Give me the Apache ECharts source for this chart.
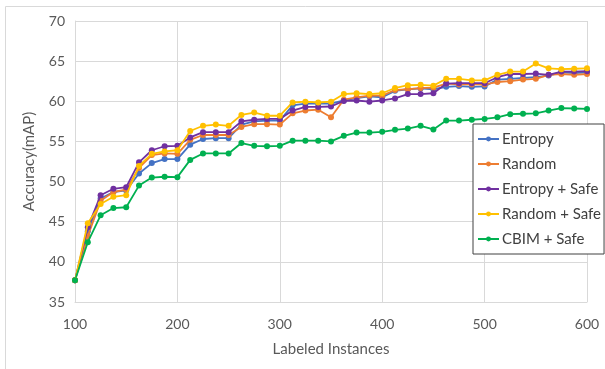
<!DOCTYPE html>
<html><head><meta charset="utf-8">
<script src="https://cdn.jsdelivr.net/npm/echarts@6/dist/echarts.min.js"></script>
<style>html,body{margin:0;padding:0;background:#fff}#c{width:605px;height:369px}</style>
</head><body><div id="c"></div>
<script>
const xValues = [100,112.5,125,137.5,150,162.5,175,187.5,200,212.5,225,237.5,250,262.5,275,287.5,300,312.5,325,337.5,350,362.5,375,387.5,400,412.5,425,437.5,450,462.5,475,487.5,500,512.5,525,537.5,550,562.5,575,587.5,600];
const entropy =      [37.7,43.8,47.9,48.7,48.9,51.0,52.3,52.8,52.8,54.6,55.3,55.4,55.4,57.1,57.5,57.6,57.6,59.5,59.7,59.7,59.7,60.1,60.4,60.6,60.5,61.3,61.5,61.6,61.5,61.8,61.9,61.8,61.85,62.7,62.8,62.9,63.0,63.2,63.6,63.5,63.6];
const random =       [37.7,43.2,47.6,48.7,49.0,51.7,53.3,53.5,53.45,55.2,55.8,55.8,55.8,56.8,57.15,57.15,57.1,58.5,58.85,58.95,58.0,60.2,60.5,60.7,60.7,61.4,61.5,61.65,61.7,62.2,62.1,62.1,62.1,62.4,62.5,62.7,62.8,63.3,63.4,63.3,63.4];
const entropySafe =  [37.7,44.3,48.3,49.1,49.3,52.4,53.9,54.4,54.45,55.5,56.15,56.15,56.15,57.5,57.7,57.8,57.8,58.85,59.3,59.3,59.35,60.05,60.1,59.95,60.1,60.35,60.9,60.9,61.0,62.2,62.25,62.25,62.25,63.0,63.4,63.4,63.45,63.3,63.7,63.7,63.75];
const randomSafe =   [37.7,44.8,47.2,48.1,48.3,51.95,53.45,53.75,53.9,56.3,56.95,57.1,56.95,58.3,58.6,58.2,58.2,59.85,59.95,59.85,59.95,60.9,61.0,60.9,61.0,61.65,62.0,62.05,61.95,62.8,62.8,62.6,62.6,63.3,63.7,63.7,64.7,64.1,64.0,64.05,64.1];
const cbimSafe =     [37.7,42.45,45.8,46.7,46.8,49.5,50.5,50.6,50.55,52.7,53.5,53.5,53.5,54.8,54.45,54.4,54.45,55.1,55.1,55.1,55.0,55.7,56.1,56.1,56.2,56.45,56.6,56.95,56.5,57.6,57.6,57.7,57.8,58.0,58.4,58.45,58.5,58.85,59.15,59.1,59.05];
const seriesNames = ['Entropy','Random','Entropy + Safe','Random + Safe','CBIM + Safe'];
const seriesColors = ['#4472C4','#ED7D31','#7030A0','#FFC000','#00B050'];
const seriesData = [entropy, random, entropySafe, randomSafe, cbimSafe];

const chart = echarts.init(document.getElementById('c'));
const font = 'Lato, "Open Sans", sans-serif';
chart.setOption({
  animation: false,
  textStyle: {fontFamily: font},
  graphic: [{type:'rect', shape:{x:5.5,y:6.5,width:640,height:400}, style:{fill:'none', stroke:'#d9d9d9', lineWidth:1}, z:-10}],
  grid: {left: 75, right: 18, top: 21, bottom: 67},
  legend: {
    orient: 'vertical', left: 473, top: 124,
    backgroundColor: '#fff', borderColor: '#404040', borderWidth: 1,
    padding: [7, 3, 7, 4], itemGap: 9, itemWidth: 21, itemHeight: 6,
    textStyle: {fontSize: 15, lineHeight: 16, color: '#404040', fontFamily: font, padding: [0,0,0,-2]},
    data: seriesNames
  },
  xAxis: {
    type: 'value', min: 100, max: 600, interval: 100,
    name: 'Labeled Instances', nameLocation: 'middle', nameGap: 40,
    nameTextStyle: {fontSize: 15, color: '#595959'},
    axisLine: {show: true, lineStyle: {color: '#d9d9d9'}},
    axisTick: {show: false},
    axisLabel: {fontSize: 14, color: '#595959', margin: 15},
    splitLine: {show: true, lineStyle: {color: '#d9d9d9'}}
  },
  yAxis: {
    type: 'value', min: 35, max: 70, interval: 5,
    name: 'Accuracy(mAP)', nameLocation: 'middle', nameGap: 38,
    nameTextStyle: {fontSize: 15, color: '#595959'},
    axisLine: {show: true, lineStyle: {color: '#d9d9d9'}},
    axisTick: {show: false},
    axisLabel: {fontSize: 14, color: '#595959', margin: 10},
    splitLine: {show: true, lineStyle: {color: '#d9d9d9'}}
  },
  series: seriesNames.map((n, i) => ({
    name: n, type: 'line',
    data: xValues.map((x, j) => [x, seriesData[i][j]]),
    symbol: 'circle', symbolSize: 6,
    itemStyle: {color: seriesColors[i]},
    lineStyle: {color: seriesColors[i], width: 1.8},
    z: i === 4 ? 5 : 2 + i
  }))
});
</script></body></html>
